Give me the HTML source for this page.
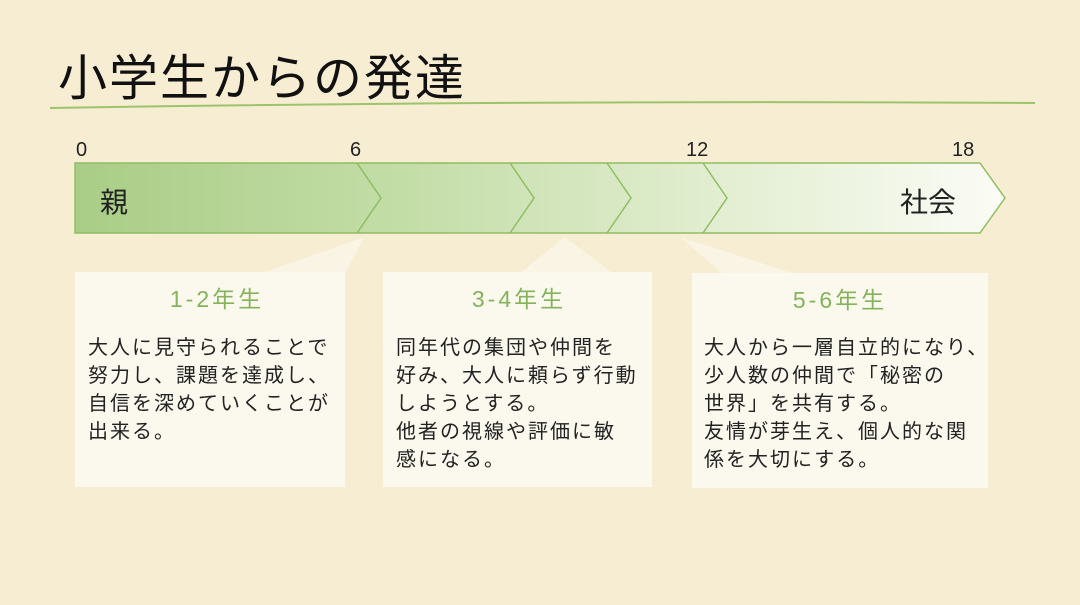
<!DOCTYPE html>
<html><head><meta charset="utf-8"><style>
html,body{margin:0;padding:0;width:1080px;height:605px;overflow:hidden;background:#f7edd2;}
svg{display:block}
text{font-family:"Liberation Sans","Noto Sans CJK JP",sans-serif;}
</style></head><body>
<svg width="1080" height="605" viewBox="0 0 1080 605" xmlns="http://www.w3.org/2000/svg">
<defs>
<linearGradient id="g" x1="75" y1="0" x2="1005" y2="0" gradientUnits="userSpaceOnUse">
<stop offset="0" stop-color="#a9cd86"/>
<stop offset="0.35" stop-color="#c3dda7"/>
<stop offset="0.7" stop-color="#e3eed2"/>
<stop offset="1" stop-color="#fbfcf6"/>
</linearGradient>
</defs>
<rect width="1080" height="605" fill="#f7edd2"/>
<text x="58" y="95" font-size="49" letter-spacing="2" fill="#111">小学生からの発達</text>
<path d="M50 108 Q 540 100 1035 103" stroke="#9cc46c" stroke-width="2" fill="none"/>
<g font-size="20" fill="#222">
<text x="76" y="156">0</text><text x="350" y="156">6</text><text x="686" y="156">12</text><text x="952" y="156">18</text>
</g>
<path d="M75 163 H980 L1005 198 L980 233 H75 Z" fill="url(#g)" stroke="#8fbe62" stroke-width="1.5"/>
<g stroke="#8fbe62" stroke-width="1.5" fill="none">
<path d="M357 163 L381 198 L357 233"/>
<path d="M510 163 L534 198 L510 233"/>
<path d="M607 163 L631 198 L607 233"/>
<path d="M703 163 L727 198 L703 233"/>
</g>
<text x="100" y="212" font-size="28" fill="#222">親</text>
<text x="900" y="212" font-size="28" fill="#222">社会</text>
<g fill="#fbf7ec" opacity="0.7">
<polygon points="365,237 262,273 345,273"/>
<polygon points="565,237 520,273 612,273"/>
<polygon points="680,237 722,273 792,273"/>
</g>
<g fill="#fbf8ee">
<rect x="75" y="272" width="270" height="215"/>
<rect x="383" y="272" width="269" height="215"/>
<rect x="692" y="273" width="296" height="215"/>
</g>
<g font-size="23" fill="#84b35c" text-anchor="middle" letter-spacing="3">
<text x="217" y="307">1-2年生</text>
<text x="519" y="307">3-4年生</text>
<text x="840" y="308">5-6年生</text>
</g>
<g font-size="20" fill="#222" letter-spacing="2">
<text x="88" y="354">大人に見守られることで</text>
<text x="88" y="382">努力し、課題を達成し、</text>
<text x="88" y="410">自信を深めていくことが</text>
<text x="88" y="438">出来る。</text>
<text x="396" y="354">同年代の集団や仲間を</text>
<text x="396" y="382">好み、大人に頼らず行動</text>
<text x="396" y="410">しようとする。</text>
<text x="396" y="438">他者の視線や評価に敏</text>
<text x="396" y="466">感になる。</text>
<text x="704" y="354">大人から一層自立的になり、</text>
<text x="704" y="382">少人数の仲間で「秘密の</text>
<text x="704" y="410">世界」を共有する。</text>
<text x="704" y="438">友情が芽生え、個人的な関</text>
<text x="704" y="466">係を大切にする。</text>
</g>
</svg>
</body></html>
